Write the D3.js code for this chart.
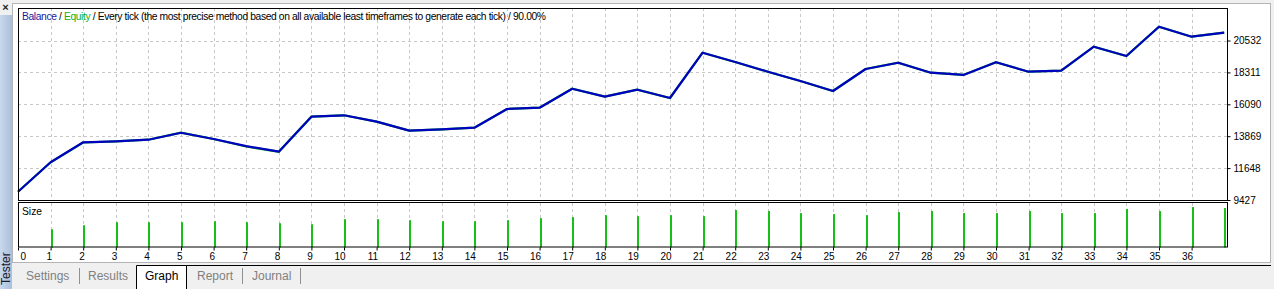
<!DOCTYPE html>
<html>
<head>
<meta charset="utf-8">
<script src="https://cdnjs.cloudflare.com/ajax/libs/d3/7.8.5/d3.min.js"></script>
<style>
  html, body { margin: 0; padding: 0; background: #f0f0f0; overflow: hidden; }
  svg { display: block; font-family: "Liberation Sans", Arial, sans-serif; }
</style>
</head>
<body>
<svg id="chart"></svg>
<script>
// balance after each deal (deal 0 = deposit)
const balance = [10000, 12052, 13444, 13513, 13625, 14112, 13674, 13180, 12790, 15227,
	15325, 14880, 14253, 14350, 14462, 15763, 15855, 17176, 16620, 17107,
	16528, 19683, 19035, 18360, 17712, 17015, 18547, 18985, 18289, 18136,
	19020, 18360, 18430, 20101, 19453, 21493, 20797, 21075];

// equity, almost always under the balance line
const equity = [10000, 12052, 13430, 13513, 13625, 14112, 13674, 13150, 12790, 15227,
	15325, 14880, 14253, 14350, 14462, 15763, 15855, 17176, 16620, 17107,
	16528, 19683, 19035, 18360, 17712, 17015, 18547, 18985, 18289, 18136,
	19020, 18360, 18430, 20101, 19453, 21493, 20797, 21075];

// lot size of each deal
const sizes = [0, 0.18, 0.22, 0.25, 0.25, 0.25, 0.26, 0.25, 0.24, 0.23,
	0.28, 0.28, 0.27, 0.26, 0.26, 0.27, 0.29, 0.30, 0.32, 0.31,
	0.32, 0.31, 0.37, 0.36, 0.34, 0.33, 0.32, 0.35, 0.36, 0.34,
	0.34, 0.36, 0.34, 0.34, 0.38, 0.36, 0.40, 0.39];

const yTicks = [9427, 11648, 13869, 16090, 18311, 20532];
const xTicks = d3.range(0, 37);

const tabs = ["Settings", "Results", "Graph", "Report", "Journal"];
const title = "Every tick (the most precise method based on all available least timeframes to generate each tick) / 90.00%";

const W = 1274, H = 289;
const plot = { left: 18, right: 1227, top: 8, bottom: 200 };
const sub = { top: 203, bottom: 247.5 };

const svg = d3.select("#chart").attr("width", W).attr("height", H);

// window chrome
svg.append("rect").attr("x", 12.5).attr("y", 3.5).attr("width", 1258).attr("height", 259)
	.attr("fill", "#fff").attr("stroke", "#b4b4b4");

const grad = svg.append("defs").append("linearGradient").attr("id", "strip")
	.attr("x1", 0).attr("y1", 0).attr("x2", 1).attr("y2", 0);
grad.append("stop").attr("offset", "0%").attr("stop-color", "#c9d8ec");
grad.append("stop").attr("offset", "100%").attr("stop-color", "#a9bfdc");
svg.append("rect").attr("x", 0).attr("y", 15).attr("width", 12).attr("height", H - 15).attr("fill", "url(#strip)");
svg.append("text").attr("x", 5.5).attr("y", 11).attr("text-anchor", "middle")
	.attr("font-size", 11).attr("font-weight", "bold").attr("fill", "#222").text("×");
svg.append("text").attr("transform", "translate(10, 285) rotate(-90)")
	.attr("font-size", 12).attr("fill", "#1a1a2a").text("Tester");

// scales
const x = d3.scaleLinear().domain([0, balance.length - 1]).range([plot.left, 1224.2]);
const y = d3.scaleLinear().domain([9427, 20532]).range([plot.bottom, 40.5]);
const s = d3.scaleLinear().domain([0, 0.44]).range([sub.bottom, sub.top]);

// grid
const grid = svg.append("g").attr("stroke", "#c8c8c8").attr("stroke-dasharray", "3,3").attr("shape-rendering", "crispEdges");
grid.selectAll(".vg").data(xTicks.slice(1)).enter().append("line")
	.attr("x1", (d) => Math.round(x(d)) + 0.5).attr("x2", (d) => Math.round(x(d)) + 0.5)
	.attr("y1", plot.top).attr("y2", plot.bottom);
grid.selectAll(".vs").data(xTicks.slice(1)).enter().append("line")
	.attr("x1", (d) => Math.round(x(d)) + 0.5).attr("x2", (d) => Math.round(x(d)) + 0.5)
	.attr("y1", sub.top).attr("y2", sub.bottom);
grid.selectAll(".hg").data(yTicks.slice(1)).enter().append("line")
	.attr("x1", plot.left).attr("x2", plot.right)
	.attr("y1", (d) => Math.round(y(d)) + 0.5).attr("y2", (d) => Math.round(y(d)) + 0.5);

// size bars
const sizeData = sizes.map((v, i) => ({ i: i, v: v })).filter((d) => d.v > 0);
svg.append("g").selectAll("rect").data(sizeData).enter().append("rect")
	.attr("x", (d) => Math.round(x(d.i)))
	.attr("y", (d) => s(d.v)).attr("width", 2).attr("height", (d) => sub.bottom - s(d.v))
	.attr("fill", "#16c016");

// lines
const line = d3.line().x((d, i) => x(i)).y((d) => y(d));
svg.append("path").datum(equity).attr("d", line).attr("fill", "none")
	.attr("stroke", "#10c010").attr("stroke-width", 2.2);
svg.append("path").datum(balance).attr("d", line).attr("fill", "none")
	.attr("stroke", "#0000c0").attr("stroke-width", 2.2).attr("stroke-linejoin", "round");

// frames
svg.append("rect").attr("x", plot.left + 0.5).attr("y", plot.top + 0.5)
	.attr("width", plot.right - plot.left).attr("height", plot.bottom - plot.top)
	.attr("fill", "none").attr("stroke", "#000");
svg.append("rect").attr("x", plot.left + 0.5).attr("y", sub.top - 0.5)
	.attr("width", plot.right - plot.left).attr("height", sub.bottom - sub.top)
	.attr("fill", "none").attr("stroke", "#000");

// y axis
const yAxis = d3.axisRight(y).tickValues(yTicks).tickSize(3).tickPadding(3).tickFormat(d3.format("d"));
svg.append("g").attr("transform", `translate(${plot.right + 0.5}, 0)`).call(yAxis)
	.call((g) => g.select(".domain").remove())
	.selectAll("text").attr("font-size", 10).attr("fill", "#000").attr("font-family", "Liberation Sans, Arial, sans-serif");

// x axis
const xAxis = d3.axisBottom(x).tickValues(xTicks).tickSize(3).tickPadding(2).tickFormat(d3.format("d"));
const xg = svg.append("g").attr("transform", `translate(0, ${sub.bottom})`).call(xAxis)
	.call((g) => g.select(".domain").remove());
xg.selectAll(".tick line").attr("stroke", "#000");
xg.selectAll("text").attr("font-size", 10).attr("fill", "#000")
	.attr("font-family", "Liberation Sans, Arial, sans-serif")
	.attr("text-anchor", (d) => d == 0 ? "start" : "end")
	.attr("x", (d) => d == 0 ? 2 : 1);

// title
const t = svg.append("text").attr("x", 22).attr("y", 20).attr("font-size", 10.3).attr("fill", "#000")
	.attr("textLength", 524).attr("lengthAdjust", "spacing");
t.append("tspan").attr("fill", "#1a1aa0").text("Balance");
t.append("tspan").text(" / ");
t.append("tspan").attr("fill", "#12b012").text("Equity");
t.append("tspan").text(" / " + title);

svg.append("text").attr("x", 22).attr("y", 215).attr("font-size", 10.3).attr("fill", "#000").text("Size");

// tabs
svg.append("line").attr("x1", 186).attr("x2", 1271).attr("y1", 265.5).attr("y2", 265.5).attr("stroke", "#000");
svg.append("path").attr("d", "M136.5,289 V265.5 H186.5 V289").attr("fill", "#fff").attr("stroke", "#000");
const tabX = [26, 88, 145, 197, 252];
svg.append("g").selectAll("text").data(tabs).enter().append("text")
	.attr("x", (d, i) => tabX[i]).attr("y", 280).attr("font-size", 12)
	.attr("fill", (d) => d == "Graph" ? "#000" : "#808080").text((d) => d);
svg.append("g").selectAll("line").data([79, 242, 300]).enter().append("line")
	.attr("x1", (d) => d + 0.5).attr("x2", (d) => d + 0.5).attr("y1", 268).attr("y2", 284)
	.attr("stroke", "#909090");
</script>
</body>
</html>
